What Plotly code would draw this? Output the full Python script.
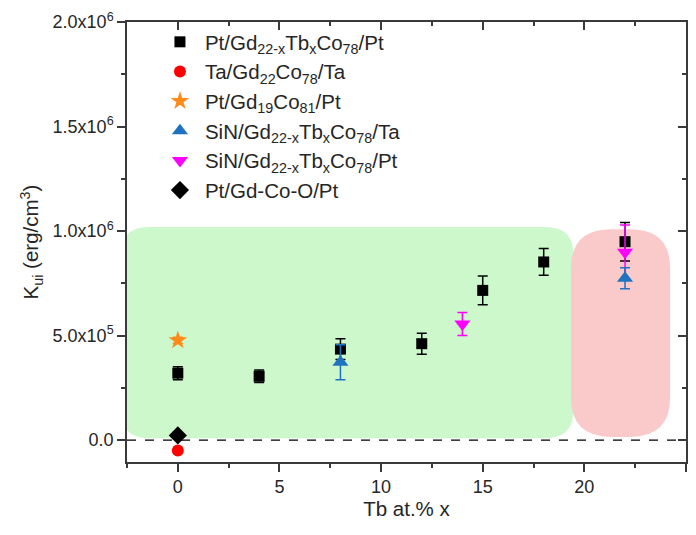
import plotly.graph_objects as go

# Pt/Gd(22-x)Tb(x)Co78/Pt
pt_x = [0, 4, 8, 12, 15, 18, 22]
pt_y = [3.20e5, 3.05e5, 4.35e5, 4.61e5, 7.16e5, 8.52e5, 9.49e5]
pt_err = [3.1e4, 3.0e4, 5.0e4, 5.0e4, 6.9e4, 6.4e4, 9.2e4]

# Ta/Gd22Co78/Ta
ta_x = [0]
ta_y = [-5.0e4]

# Pt/Gd19Co81/Pt
gd19_x = [0]
gd19_y = [4.77e5]
gd19_err = [1.5e4]

# SiN/Gd(22-x)Tb(x)Co78/Ta
sin_ta_x = [8, 22]
sin_ta_y = [3.72e5, 7.74e5]
sin_ta_err = [8.4e4, 5.0e4]

# SiN/Gd(22-x)Tb(x)Co78/Pt
sin_pt_x = [14, 22]
sin_pt_y = [5.55e5, 8.99e5]
sin_pt_err = [5.5e4, 1.3e5]

# Pt/Gd-Co-O/Pt
oxide_x = [0]
oxide_y = [2.2e4]

y_tickvals = [0, 5e5, 1e6, 1.5e6, 2e6]
y_ticktext = ["0.0", "5.0x10<sup>5</sup>", "1.0x10<sup>6</sup>",
              "1.5x10<sup>6</sup>", "2.0x10<sup>6</sup>"]
x_tickvals = [0, 5, 10, 15, 20, 25]

# shaded composition regions: (x0, x1, y0, y1, corner radius in x units, in y units)
green_region = (-2.79, 19.46, 0.9e4, 1.019e6, 1.38, 1.31e5)
red_region = (19.34, 24.22, 1.5e4, 1.008e6, 1.97, 1.88e5)

FONT = "Arial, Liberation Sans, sans-serif"
INK = "#262626"


def rounded_rect(x0, x1, y0, y1, rx, ry):
    return (f"M {x0 + rx} {y0} L {x1 - rx} {y0} Q {x1} {y0} {x1} {y0 + ry} "
            f"L {x1} {y1 - ry} Q {x1} {y1} {x1 - rx} {y1} "
            f"L {x0 + rx} {y1} Q {x0} {y1} {x0} {y1 - ry} "
            f"L {x0} {y0 + ry} Q {x0} {y0} {x0 + rx} {y0} Z")


def err(vals, color):
    return dict(type="data", array=vals, visible=True, color=color,
                thickness=1.5, width=5)


fig = go.Figure()

fig.add_trace(go.Scatter(
    x=pt_x, y=pt_y, mode="markers", legendrank=1,
    name="Pt/Gd<sub>22-x</sub>Tb<sub>x</sub>Co<sub>78</sub>/Pt",
    marker=dict(symbol="square", size=11, color="black"),
    error_y=err(pt_err, "black")))
fig.add_trace(go.Scatter(
    x=ta_x, y=ta_y, mode="markers", legendrank=2,
    name="Ta/Gd<sub>22</sub>Co<sub>78</sub>/Ta",
    marker=dict(symbol="circle", size=12, color="#ff0000")))
fig.add_trace(go.Scatter(
    x=gd19_x, y=gd19_y, mode="markers", legendrank=3,
    name="Pt/Gd<sub>19</sub>Co<sub>81</sub>/Pt",
    marker=dict(symbol="star", size=14, color="#ff8a1a"),
    error_y=err(gd19_err, "#ff8a1a")))
fig.add_trace(go.Scatter(
    x=sin_pt_x, y=sin_pt_y, mode="markers", legendrank=5,
    name="SiN/Gd<sub>22-x</sub>Tb<sub>x</sub>Co<sub>78</sub>/Pt",
    marker=dict(symbol="triangle-down", size=14, color="#ff00ff"),
    error_y=err(sin_pt_err, "#ff00ff")))
fig.add_trace(go.Scatter(
    x=sin_ta_x, y=sin_ta_y, mode="markers", legendrank=4,
    name="SiN/Gd<sub>22-x</sub>Tb<sub>x</sub>Co<sub>78</sub>/Ta",
    marker=dict(symbol="triangle-up", size=14, color="#1f72c0"),
    error_y=err(sin_ta_err, "#1f72c0")))
fig.add_trace(go.Scatter(
    x=oxide_x, y=oxide_y, mode="markers", legendrank=6,
    name="Pt/Gd-Co-O/Pt",
    marker=dict(symbol="diamond", size=14, color="black")))

# empty trace carrying the mirrored top/right axes
fig.add_trace(go.Scatter(x=[], y=[], xaxis="x2", yaxis="y2",
                         showlegend=False, hoverinfo="skip"))

fig.add_shape(type="path", path=rounded_rect(*green_region), xref="x", yref="y",
              fillcolor="rgb(204,248,204)", line=dict(width=0), layer="below")
fig.add_shape(type="path", path=rounded_rect(*red_region), xref="x", yref="y",
              fillcolor="rgb(250,202,202)", line=dict(width=0), layer="below")
fig.add_shape(type="line", xref="paper", x0=0, x1=1, yref="y", y0=0, y1=0,
              line=dict(color="black", width=1.3, dash="dash"), layer="below")

x_range = [-2.5, 25]
y_range = [-1.05e5, 2.0e6]
axis_line = dict(showline=True, linecolor="#3a3a3a", linewidth=1.5,
                 tickcolor="#3a3a3a", tickwidth=1.5, showgrid=False,
                 zeroline=False)

fig.update_layout(
    width=696, height=535,
    margin=dict(l=127, r=10, t=13, b=73),
    paper_bgcolor="white", plot_bgcolor="white",
    font=dict(family=FONT, size=18, color=INK),
    showlegend=True,
    legend=dict(x=0.05, y=1.0, xanchor="left", yanchor="top",
                bgcolor="rgba(0,0,0,0)", borderwidth=0,
                font=dict(family=FONT, size=20.5, color=INK),
                itemwidth=40),
    xaxis=dict(range=x_range, tickvals=x_tickvals, ticks="outside", ticklen=8,
               minor=dict(ticks="outside", ticklen=4, dtick=2.5, tick0=0,
                          tickcolor="#3a3a3a", tickwidth=1.5),
               title=dict(text="Tb at.% x", standoff=1,
                          font=dict(family=FONT, size=20.5, color=INK)),
               tickfont=dict(family=FONT, size=18, color=INK),
               **axis_line),
    yaxis=dict(range=y_range, tickvals=y_tickvals, ticktext=y_ticktext,
               ticks="outside", ticklen=8,
               minor=dict(ticks="outside", ticklen=4, dtick=2.5e5, tick0=0,
                          tickcolor="#3a3a3a", tickwidth=1.5),
               title=dict(text="K<sub>ui</sub> (erg/cm<sup>3</sup>)", standoff=8,
                          font=dict(family=FONT, size=20.5, color=INK)),
               tickfont=dict(family=FONT, size=18, color=INK),
               **axis_line),
    xaxis2=dict(overlaying="x", side="top", anchor="y2", range=x_range,
                tickvals=x_tickvals, ticks="inside", ticklen=8,
                showticklabels=False,
                minor=dict(ticks="inside", ticklen=4, dtick=2.5, tick0=0,
                           tickcolor="#3a3a3a", tickwidth=1.5),
                **axis_line),
    yaxis2=dict(overlaying="y", side="right", anchor="x2", range=y_range,
                tickvals=y_tickvals, ticks="inside", ticklen=8,
                showticklabels=False,
                minor=dict(ticks="inside", ticklen=4, dtick=2.5e5, tick0=0,
                           tickcolor="#3a3a3a", tickwidth=1.5),
                **axis_line),
)

fig.write_html("out.html")
